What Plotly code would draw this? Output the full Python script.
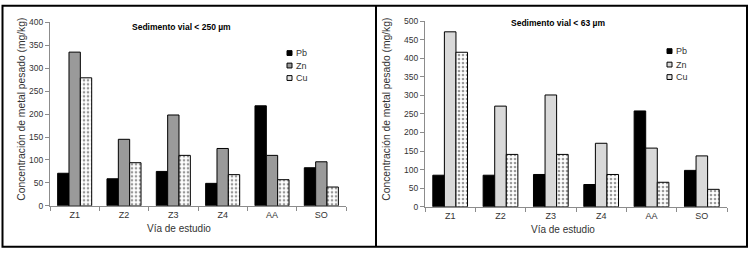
import plotly.graph_objects as go

categories = ["Z1", "Z2", "Z3", "Z4", "AA", "SO"]
series = ["Pb", "Zn", "Cu"]

# Sedimento vial < 250 µm
pb_250 = [71, 59, 75, 49, 218, 83]
zn_250 = [335, 145, 198, 125, 110, 96]
cu_250 = [279, 94, 110, 68, 57, 41]

# Sedimento vial < 63 µm
pb_63 = [85, 85, 87, 60, 258, 98]
zn_63 = [471, 271, 301, 171, 158, 137]
cu_63 = [416, 141, 141, 87, 66, 47]

left_ticks = [0, 50, 100, 150, 200, 250, 300, 350, 400]
right_ticks = [0, 50, 100, 150, 200, 250, 300, 350, 400, 450, 500]

W, H = 752, 256
def px(x):
    return x / W
def py(y):
    return 1 - y / H

FONT = "Liberation Sans, Arial, sans-serif"
TXT = "#333333"

fills_left = {"Pb": "#000000", "Zn": "#9a9a9a", "Cu": "#ffffff"}
fills_right = {"Pb": "#000000", "Zn": "#d9d9d9", "Cu": "#ffffff"}

fig = go.Figure()

def add_bars(vals, fills, xa, ya):
    for name, v in zip(series, vals):
        marker = dict(color=fills[name], line=dict(color="#000000", width=1))
        if name == "Cu":
            marker["pattern"] = dict(shape=".", fgcolor="#333333", bgcolor="#ffffff",
                                     size=4, solidity=0.35)
        fig.add_trace(go.Bar(x=categories, y=v, name=name, marker=marker,
                             xaxis=xa, yaxis=ya, showlegend=False))

add_bars([pb_250, zn_250, cu_250], fills_left, "x", "y")
add_bars([pb_63, zn_63, cu_63], fills_right, "x2", "y2")

axis_common = dict(showline=True, linecolor="#8c8c8c", linewidth=1, ticks="outside",
                   ticklen=4, tickcolor="#8c8c8c", showgrid=False, zeroline=False,
                   tickfont=dict(family=FONT, size=9, color=TXT))
yfont = dict(family=FONT, size=8.5, color=TXT)

fig.update_layout(
    width=W, height=H,
    margin=dict(l=0, r=0, t=0, b=0),
    paper_bgcolor="white", plot_bgcolor="white",
    barmode="group", bargap=0.31, bargroupgap=0,
    xaxis=dict(domain=[px(50), px(346)], anchor="y", type="category",
               tickson="boundaries", **axis_common),
    yaxis=dict(domain=[py(209), py(18)], anchor="x", range=[0, 400],
               tickvals=left_ticks, **{**axis_common, "tickfont": yfont}),
    xaxis2=dict(domain=[px(425), px(727)], anchor="y2", type="category",
                tickson="boundaries", **axis_common),
    yaxis2=dict(domain=[py(210), py(16.7)], anchor="x2", range=[0, 500],
                tickvals=right_ticks, **{**axis_common, "tickfont": yfont}),
)

annotations = []
def ann(text, x, y, size, bold=False, angle=0, xanchor="center", color=TXT):
    annotations.append(dict(text=f"<b>{text}</b>" if bold else text, x=px(x), y=py(y),
                            xref="paper", yref="paper", showarrow=False, textangle=angle,
                            xanchor=xanchor, yanchor="middle",
                            font=dict(family=FONT, size=size, color=color)))

ann("Sedimento vial &lt; 250 µm", 181, 23, 8.5, bold=True, color="#000000")
ann("Sedimento vial &lt; 63 µm", 558, 19, 8.5, bold=True, color="#000000")
ann("Concentración de metal pesado (mg/kg)", 22, 109, 10.3, angle=-90)
ann("Concentración de metal pesado (mg/kg)", 387, 109, 10.3, angle=-90)
ann("Vía de estudio", 179, 233, 10)
ann("Vía de estudio", 563, 234, 10)

shapes = []
# legends
def legend(x0, ys, fills):
    for name, yy in zip(series, ys):
        shapes.append(dict(type="rect", xref="paper", yref="paper",
                           x0=px(x0), x1=px(x0 + 5), y0=py(yy + 2.5), y1=py(yy - 2.5),
                           fillcolor=fills[name] if name != "Cu" else "#e6e6e6",
                           line=dict(color="#000000", width=1)))
        ann(name, x0 + 6.5, yy, 9, xanchor="left")

legend(287, [50, 63, 76], fills_left)
legend(667, [48, 62, 75], fills_right)

# outer frame and divider
shapes.append(dict(type="rect", xref="paper", yref="paper", x0=px(2.5), x1=px(747),
                   y0=py(251.5), y1=py(0.8), line=dict(color="#000000", width=2)))
shapes.append(dict(type="line", xref="paper", yref="paper", x0=px(376), x1=px(376),
                   y0=py(251.5), y1=py(0.8), line=dict(color="#000000", width=2)))

fig.update_layout(annotations=annotations, shapes=shapes)

fig.write_html("out.html", config={"displayModeBar": False, "staticPlot": True},
               post_script="document.body.style.margin='0';document.body.style.overflow='hidden';")
